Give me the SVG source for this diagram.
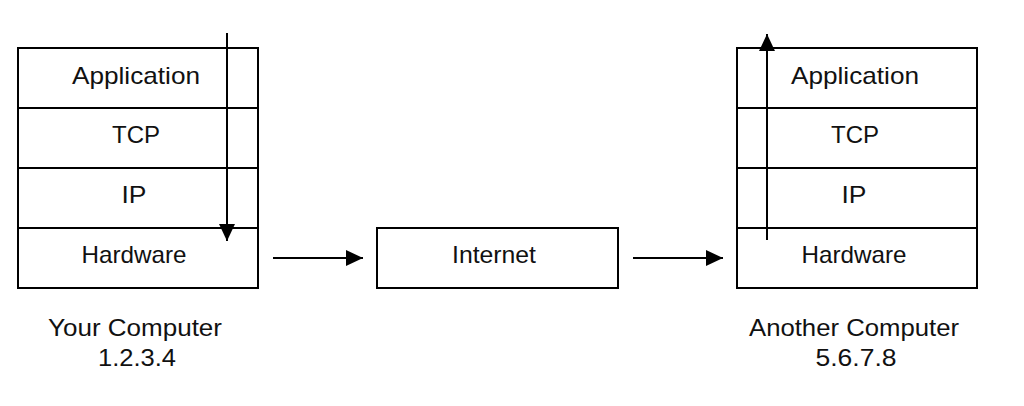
<svg xmlns="http://www.w3.org/2000/svg" width="1024" height="406" viewBox="0 0 1024 406">
<style>
.box{fill:#fff;stroke:#000;stroke-width:2}
.ln{stroke:#000;stroke-width:2;fill:none}
text{font-family:"Liberation Sans",Arial,sans-serif;font-size:24px;fill:#111;text-anchor:middle}
</style>
<defs>
<marker id="ah" markerWidth="18" markerHeight="16" refX="17" refY="8" orient="auto" markerUnits="userSpaceOnUse">
<path d="M0,0 L17,8 L0,16 Z" fill="#000"/>
</marker>
</defs>
<rect width="1024" height="406" fill="#fff"/>
<g id="your-computer">
<rect class="box" x="18" y="48" width="240" height="240"/>
<line class="ln" x1="18" y1="108" x2="258" y2="108"/>
<line class="ln" x1="18" y1="168" x2="258" y2="168"/>
<line class="ln" x1="18" y1="228" x2="258" y2="228"/>
<text x="136" y="84" textLength="128" lengthAdjust="spacingAndGlyphs">Application</text>
<text x="136" y="143" textLength="48" lengthAdjust="spacingAndGlyphs">TCP</text>
<text x="134" y="203" textLength="25" lengthAdjust="spacingAndGlyphs">IP</text>
<text x="134" y="263" textLength="105" lengthAdjust="spacingAndGlyphs">Hardware</text>
<text x="135" y="336" textLength="174" lengthAdjust="spacingAndGlyphs">Your Computer</text>
<text x="137" y="366" textLength="78" lengthAdjust="spacingAndGlyphs">1.2.3.4</text>
</g>
<g id="internet">
<rect class="box" x="377" y="228" width="241" height="60"/>
<text x="494" y="263" textLength="84" lengthAdjust="spacingAndGlyphs">Internet</text>
</g>
<g id="another-computer">
<rect class="box" x="737" y="48" width="240" height="240"/>
<line class="ln" x1="737" y1="108" x2="977" y2="108"/>
<line class="ln" x1="737" y1="168" x2="977" y2="168"/>
<line class="ln" x1="737" y1="228" x2="977" y2="228"/>
<text x="855" y="84" textLength="128" lengthAdjust="spacingAndGlyphs">Application</text>
<text x="855" y="143" textLength="48" lengthAdjust="spacingAndGlyphs">TCP</text>
<text x="854" y="203" textLength="25" lengthAdjust="spacingAndGlyphs">IP</text>
<text x="854" y="263" textLength="105" lengthAdjust="spacingAndGlyphs">Hardware</text>
<text x="854" y="336" textLength="210" lengthAdjust="spacingAndGlyphs">Another Computer</text>
<text x="856" y="366" textLength="81" lengthAdjust="spacingAndGlyphs">5.6.7.8</text>
</g>
<g id="connectors">
<line class="ln" x1="227" y1="33" x2="227" y2="241" marker-end="url(#ah)"/>
<line class="ln" x1="273" y1="258" x2="363" y2="258" marker-end="url(#ah)"/>
<line class="ln" x1="633" y1="258" x2="723" y2="258" marker-end="url(#ah)"/>
<line class="ln" x1="767" y1="240" x2="767" y2="34" marker-end="url(#ah)"/>
</g>
</svg>
